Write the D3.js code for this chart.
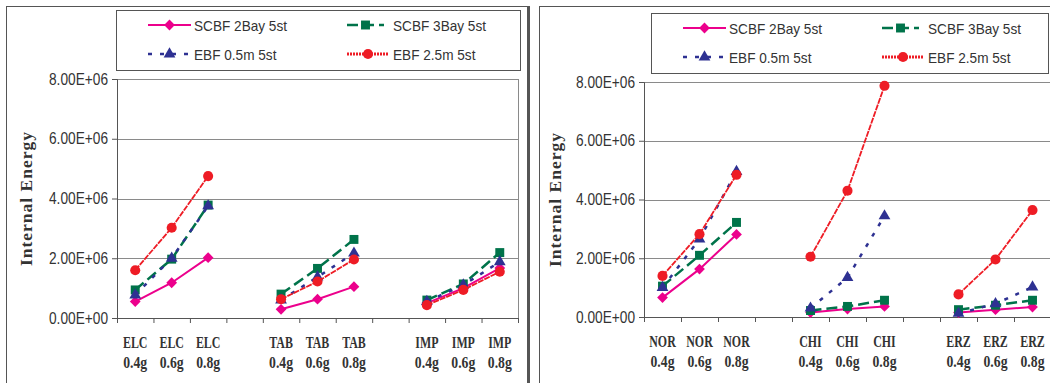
<!DOCTYPE html>
<html>
<head>
<meta charset="utf-8">
<script src="https://cdn.jsdelivr.net/npm/d3@7"></script>
<style>
  html, body { margin: 0; padding: 0; background: #fff; }
  svg { display: block; }
</style>
</head>
<body>
<svg id="chart" width="1050" height="383"></svg>
<script>
// data
const levels = ["0.4g", "0.6g", "0.8g"];
const leftGroups = ["ELC", "TAB", "IMP"];
const rightGroups = ["NOR", "CHI", "ERZ"];
const seriesNames = ["SCBF 2Bay 5st", "SCBF 3Bay 5st", "EBF 0.5m 5st", "EBF 2.5m 5st"];
const yTicks = [0, 2e6, 4e6, 6e6, 8e6];

const scbf2Left = [0.55e6, 1.18e6, 2.02e6, 0.29e6, 0.63e6, 1.05e6, 0.50e6, 1.00e6, 1.67e6];
const scbf3Left = [0.94e6, 1.97e6, 3.78e6, 0.80e6, 1.66e6, 2.63e6, 0.60e6, 1.14e6, 2.19e6];
const ebf05Left = [0.77e6, 2.00e6, 3.75e6, 0.60e6, 1.37e6, 2.17e6, 0.55e6, 1.10e6, 1.88e6];
const ebf25Left = [1.60e6, 3.02e6, 4.75e6, 0.63e6, 1.22e6, 1.96e6, 0.43e6, 0.94e6, 1.55e6];

const scbf2Right = [0.66e6, 1.63e6, 2.81e6, 0.15e6, 0.27e6, 0.36e6, 0.15e6, 0.25e6, 0.34e6];
const scbf3Right = [1.05e6, 2.10e6, 3.22e6, 0.22e6, 0.36e6, 0.57e6, 0.25e6, 0.40e6, 0.57e6];
const ebf05Right = [1.00e6, 2.65e6, 4.95e6, 0.30e6, 1.34e6, 3.44e6, 0.12e6, 0.45e6, 1.02e6];
const ebf25Right = [1.40e6, 2.82e6, 4.84e6, 2.05e6, 4.30e6, 7.87e6, 0.77e6, 1.96e6, 3.64e6];

const styles = [
  { color: "#ec008c", width: 2, dash: null, marker: "diamond" },
  { color: "#00734a", width: 2.5, dash: "11,5", marker: "square" },
  { color: "#2e3192", width: 2.5, dash: "4,8", marker: "triangle" },
  { color: "#ee1c25", width: 1.8, dash: "6,1", marker: "circle" }
];

const sans = "Liberation Sans, Arial, sans-serif";
const serif = "Liberation Serif, Times New Roman, serif";
const svg = d3.select("#chart");

function sci(v) {
  const [m, e] = v.toExponential(2).split("e");
  return m + "E" + e[0] + e.slice(1).padStart(2, "0");
}

// natural width of a string in a given font
function measure(str, family, size, weight) {
  const t = svg.append("text").attr("font-family", family).attr("font-size", size)
    .attr("font-weight", weight || "normal").text(str);
  const w = t.node().getComputedTextLength();
  t.remove();
  return w;
}

// the original picture is squeezed sideways; narrow the text by factor k
function squeeze(sel, k) {
  sel.each(function () {
    const w = this.getComputedTextLength();
    this.setAttribute("textLength", w * k);
    this.setAttribute("lengthAdjust", "spacingAndGlyphs");
  });
}

const kTick = 59 / measure("8.00E+06", sans, 16);
const kLegend = 93 / measure("SCBF 2Bay 5st", sans, 15);
const kGroup = 24.5 / measure("ELC", serif, 16, "bold");
const kLevel = 24 / measure("0.4g", serif, 16, "bold");

function marker(g, type, x, y, color) {
  if (type === "diamond") {
    g.append("path").attr("d", d3.symbol(d3.symbolSquare, 58)())
      .attr("transform", `translate(${x},${y}) rotate(45)`).attr("fill", color);
  } else if (type === "square") {
    g.append("path").attr("d", d3.symbol(d3.symbolSquare, 80)())
      .attr("transform", `translate(${x},${y})`).attr("fill", color);
  } else if (type === "triangle") {
    g.append("path").attr("d", d3.symbol(d3.symbolTriangle, 60)())
      .attr("transform", `translate(${x},${y})`).attr("fill", color);
  } else {
    g.append("path").attr("d", d3.symbol(d3.symbolCircle, 80)())
      .attr("transform", `translate(${x},${y})`).attr("fill", color);
  }
}

function drawPanel(p) {
  // outer frame
  svg.append("rect").attr("x", p.frame[0] + 0.5).attr("y", 6.5)
    .attr("width", p.frame[1]).attr("height", 420)
    .attr("fill", "none").attr("stroke", "#555").attr("stroke-width", 1);

  // categories with blank gaps between groups
  const cats = [];
  p.groups.forEach((grp, gi) => {
    levels.forEach(l => cats.push(grp + " " + l));
    if (gi < p.groups.length - 1) cats.push("gap" + gi);
  });

  const x = d3.scaleBand().domain(cats).range([p.left, p.right]);
  const xi = d3.scaleLinear().domain([0, cats.length]).range([p.left, p.right]);
  const y = d3.scaleLinear().domain([0, 8e6]).range([p.bottom, p.top]);

  // gridlines + plot border
  svg.append("g").selectAll("line").data(yTicks.slice(1)).join("line")
    .attr("x1", p.left).attr("x2", p.right)
    .attr("y1", d => Math.round(y(d)) + 0.5).attr("y2", d => Math.round(y(d)) + 0.5)
    .attr("stroke", "#8a8a8a").attr("stroke-width", 1);
  svg.append("line").attr("x1", Math.round(p.right) + 0.5).attr("x2", Math.round(p.right) + 0.5)
    .attr("y1", p.top).attr("y2", p.bottom).attr("stroke", "#8a8a8a");

  // y axis
  const ya = svg.append("g").attr("transform", `translate(${p.left},0)`)
    .call(d3.axisLeft(y).tickValues(yTicks).tickFormat(sci).tickSize(5).tickPadding(4));
  ya.select(".domain").attr("stroke", "#555");
  ya.selectAll(".tick line").attr("stroke", "#555");
  ya.selectAll("text").attr("font-family", sans).attr("font-size", 16).attr("fill", "#333")
    .call(squeeze, kTick);

  // x axis (ticks at category boundaries)
  const xa = svg.append("g").attr("transform", `translate(0,${p.bottom})`)
    .call(d3.axisBottom(xi).tickValues(d3.range(cats.length + 1)).tickFormat("").tickSize(5).tickSizeOuter(0));
  xa.select(".domain").attr("stroke", "#555");
  xa.selectAll(".tick line").attr("stroke", "#555");

  // x labels, two lines each, narrowed with a transform so their box stays true
  const labs = svg.append("g").attr("font-family", serif)
    .attr("font-weight", "bold").attr("font-size", 16).attr("fill", "#333").attr("text-anchor", "middle");
  cats.filter(c => !c.startsWith("gap")).forEach(c => {
    const [grp, lv] = c.split(" ");
    const cx = x(c) + x.bandwidth() / 2;
    labs.append("text").attr("transform", `translate(${cx},${p.bottom + 30}) scale(${kGroup},1)`).text(grp);
    labs.append("text").attr("transform", `translate(${cx},${p.bottom + 50}) scale(${kLevel},1)`).text(lv);
  });

  // y title
  svg.append("text")
    .attr("transform", `translate(${p.titleX},${(p.top + p.bottom) / 2}) rotate(-90)`)
    .attr("text-anchor", "middle").attr("font-family", serif)
    .attr("font-weight", "bold").attr("font-size", 17.5).attr("letter-spacing", 1).attr("fill", "#333")
    .text("Internal Energy");

  // series
  const line = d3.line().x(d => d[0]).y(d => d[1]);
  p.series.forEach((vals, si) => {
    const st = styles[si];
    const g = svg.append("g");
    p.groups.forEach((grp, gi) => {
      const pts = levels.map((l, li) => [x(grp + " " + l) + x.bandwidth() / 2, y(vals[gi * 3 + li])]);
      g.append("path").attr("d", line(pts)).attr("fill", "none")
        .attr("stroke", st.color).attr("stroke-width", st.width)
        .attr("stroke-dasharray", st.dash);
      pts.forEach(pt => marker(g, st.marker, pt[0], pt[1], st.color));
    });
  });

  // legend
  const lg = svg.append("g").attr("transform", `translate(${p.legend[0]},${p.legend[1]})`);
  lg.append("rect").attr("x", 0.5).attr("y", 0.5).attr("width", p.legend[2]).attr("height", 60)
    .attr("fill", "#fff").attr("stroke", "#555");
  seriesNames.forEach((name, i) => {
    const st = styles[i];
    const lx = i % 2 === 0 ? 32 : 231;
    const ly = i < 2 ? 15 : 44;
    const len = i % 2 === 0 ? 43 : (i === 3 ? 42 : 37);
    lg.append("line").attr("x1", lx).attr("x2", lx + len).attr("y1", ly).attr("y2", ly)
      .attr("stroke", st.color).attr("stroke-width", i === 3 ? 3 : st.width)
      .attr("stroke-dasharray", i === 3 ? "2,1" : st.dash);
    marker(lg, st.marker, lx + len / 2, ly, st.color);
    lg.append("text").attr("x", i % 2 === 0 ? 78 : 277).attr("y", ly + 5.5)
      .attr("font-family", sans).attr("font-size", 15)
      .attr("fill", "#333").text(name).call(squeeze, kLegend);
  });
}

drawPanel({
  frame: [6, 521], groups: leftGroups,
  left: 117, right: 518, top: 79, bottom: 318, titleX: 32,
  legend: [116, 10, 404],
  series: [scbf2Left, scbf3Left, ebf05Left, ebf25Left]
});
svg.append("line").attr("x1", 528.5).attr("x2", 528.5).attr("y1", 6).attr("y2", 383)
  .attr("stroke", "#555").attr("stroke-width", 3);

drawPanel({
  frame: [539, 560], groups: rightGroups,
  left: 644, right: 1051, top: 82, bottom: 317, titleX: 561,
  legend: [651, 13, 397],
  series: [scbf2Right, scbf3Right, ebf05Right, ebf25Right]
});
</script>
</body>
</html>
